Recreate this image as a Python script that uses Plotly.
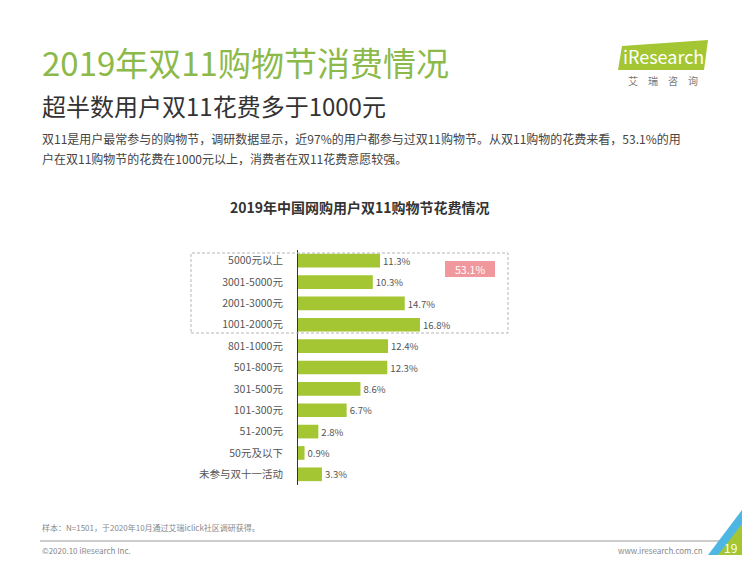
import plotly.graph_objects as go

categories = ["5000元以上", "3001-5000元", "2001-3000元", "1001-2000元", "801-1000元",
              "501-800元", "301-500元", "101-300元", "51-200元", "50元及以下", "未参与双十一活动"]
values = [11.3, 10.3, 14.7, 16.8, 12.4, 12.3, 8.6, 6.7, 2.8, 0.9, 3.3]
highlight_total = "53.1%"

# the page body has an 8px default margin on every side; fit the figure inside it
OFF = 8
W, H = 750 - 2 * OFF, 563 - 2 * OFF
FONT = "Noto Sans CJK SC"

def px(x):
    return (x - OFF) / W

def py(y):
    return 1 - (y - OFF) / H

fig = go.Figure()
fig.add_trace(go.Bar(
    x=values, y=categories, orientation="h",
    marker=dict(color="#a3c632", line=dict(width=0)),
    width=0.64,
    text=[f"{v:.1f}%" for v in values], textposition="outside",
    textfont=dict(size=10.5, color="#555555", family=FONT),
    cliponaxis=False, hoverinfo="skip",
))

x_left, x_right = 298, 520
fig.update_layout(
    width=W, height=H, margin=dict(l=0, r=0, t=0, b=0),
    paper_bgcolor="white", plot_bgcolor="rgba(0,0,0,0)",
    showlegend=False,
    font=dict(family=FONT),
    xaxis=dict(domain=[px(x_left), px(x_right)], range=[0, (x_right - x_left) / 7.26],
               visible=False, fixedrange=True),
    yaxis=dict(domain=[py(485), py(250)], autorange="reversed", type="category",
               showline=True, linecolor="#333333", linewidth=1, ticks="",
               showgrid=False, zeroline=False, ticklabelstandoff=12,
               tickfont=dict(size=10.5, color="#555555", family=FONT)),
)

RX, RY = OFF + W, OFF + H  # visible right/bottom edge of the figure
shapes = []
shapes.append(dict(type="rect", xref="paper", yref="paper",
                   x0=px(191), x1=px(508), y0=py(333), y1=py(253),
                   line=dict(color="#b5b5b5", width=1, dash="3px,2px"), fillcolor="rgba(0,0,0,0)"))
shapes.append(dict(type="rect", xref="paper", yref="paper",
                   x0=px(445), x1=px(495), y0=py(277), y1=py(261),
                   line=dict(width=0), fillcolor="#f1979e"))
shapes.append(dict(type="line", xref="paper", yref="paper",
                   x0=px(40), x1=px(728), y0=py(541), y1=py(541),
                   line=dict(color="#999999", width=1)))
shapes.append(dict(type="path", xref="paper", yref="paper",
                   path=f"M {px(RX)},{py(510)} L {px(708)},{py(RY)} L {px(RX)},{py(RY)} Z",
                   fillcolor="#4db6e2", line=dict(width=0)))
shapes.append(dict(type="path", xref="paper", yref="paper",
                   path=f"M {px(RX)},{py(524)} L {px(718)},{py(RY)} L {px(RX)},{py(RY)} Z",
                   fillcolor="#a3c632", line=dict(width=0)))
shapes.append(dict(type="path", xref="paper", yref="paper",
                   path=f"M {px(622)},{py(46)} L {px(708)},{py(40)} L {px(704)},{py(70)} L {px(618)},{py(70)} Z",
                   fillcolor="#a3c632", line=dict(width=0)))
fig.update_layout(shapes=shapes)

def ann(text, x, y, size, color, xanchor="left", bold=False):
    if bold:
        text = f"<b>{text}</b>"
    fig.add_annotation(text=text, x=px(x), y=py(y), xref="paper", yref="paper",
                       xanchor=xanchor, yanchor="middle", showarrow=False,
                       font=dict(size=size, color=color, family=FONT))

ann("2019年双11购物节消费情况", 40, 62, 33, "#8cba4a")
ann("超半数用户双11花费多于1000元", 40, 105, 24, "#333333")
ann("双11是用户最常参与的购物节，调研数据显示，近97%的用户都参与过双11购物节。从双11购物的花费来看，53.1%的用",
    40, 138, 12, "#444444")
ann("户在双11购物节的花费在1000元以上，消费者在双11花费意愿较强。", 40, 158, 12, "#444444")
ann("2019年中国网购用户双11购物节花费情况", 360, 207, 14, "#333333", xanchor="center", bold=True)
ann(highlight_total, 470, 269, 10.5, "#ffffff", xanchor="center")
ann("样本：N=1501，于2020年10月通过艾瑞iclick社区调研获得。", 40, 527, 8, "#888888")
ann("©2020.10 iResearch Inc.", 40, 550, 8, "#888888")
ann("www.iresearch.com.cn", 705, 550, 8, "#888888", xanchor="right")
ann("19", 730, 547, 12, "#ffffff", xanchor="center")
ann("iResearch", 663, 56, 18, "#ffffff", xanchor="center")
ann("艾　瑞　咨　询", 663, 80, 10, "#777777", xanchor="center")

fig.write_html("out.html")
